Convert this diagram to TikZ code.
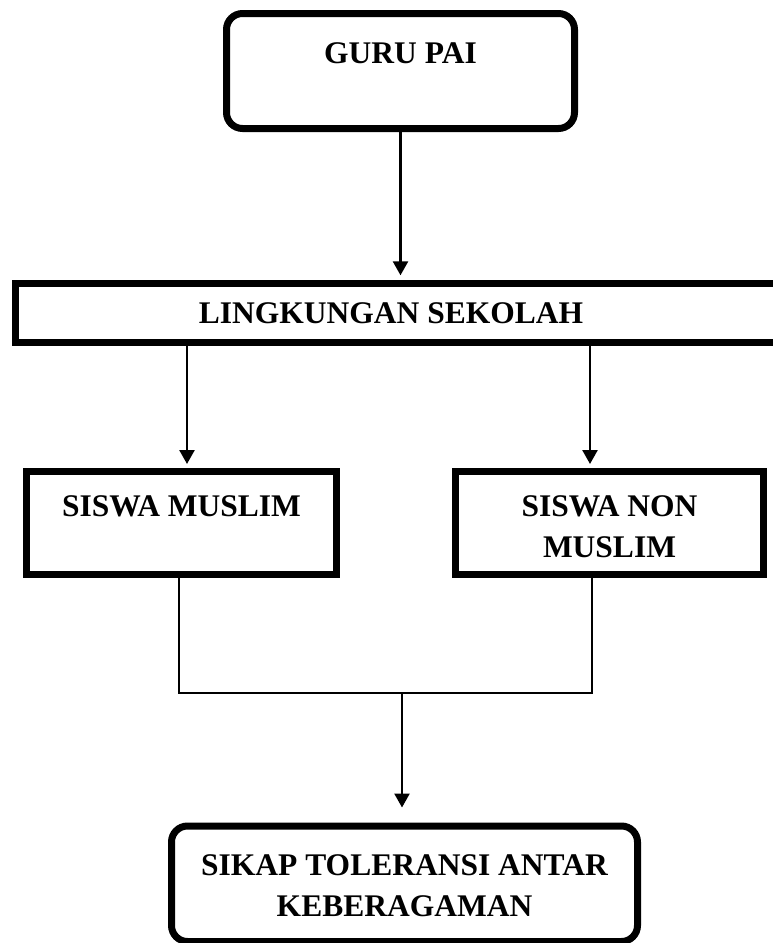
\documentclass[tikz,border=0pt]{standalone}
\usepackage{fontspec}
\setmainfont{Liberation Serif}
\usetikzlibrary{arrows.meta,positioning,calc}
\tikzset{%
	roundbox/.style = {draw, rectangle, rounded corners=16pt, line width=7pt, inner sep=0pt, align=center},
	box/.style      = {draw, rectangle, line width=7pt, inner sep=0pt, align=center},
	openbox/.style  = {rectangle, inner sep=0pt},
	frame/.style    = {line width=7pt},
	arrow/.style    = {line width=2.5pt, -{Triangle[length=14pt,width=15pt]}},
	line/.style     = {line width=1.8pt},
	waypoint/.style = {coordinate},
}

\begin{document}
\begin{tikzpicture}[x=1pt, y=-1pt, font=\fontsize{31.5}{41}\selectfont\bfseries]
	\useasboundingbox (0,0) rectangle (773,943);
	\node[roundbox, minimum width=348pt, text height=49.5pt, text depth=65.5pt] (guru) at (400.5,71) {GURU PAI};
	\node[openbox, minimum width=751pt, minimum height=59pt, text height=40pt, text depth=19pt] (lingk) at (391,313) {LINGKUNGAN SEKOLAH};
	\node[box, minimum width=310pt, text height=44.5pt, text depth=58.5pt] (muslim) at (181.5,523) {SISWA MUSLIM};
	\node[box, minimum width=308pt, text height=44.5pt, text depth=58.5pt] (nonmuslim) at (609.5,523) {\begin{tabular}[t]{@{}c@{}}SISWA NON\\MUSLIM\end{tabular}};
	\node[roundbox, minimum width=466pt, text height=49pt, text depth=66.5pt] (sikap) at (404.5,883.75) {\begin{tabular}[t]{@{}c@{}}SIKAP TOLERANSI ANTAR\\KEBERAGAMAN\end{tabular}};
	\node[waypoint] (mid) at (402,693) {};
	
	% frame of the wide box, open to the right
	\draw[frame] ([xshift=40pt]lingk.north east) -| (lingk.south west) -- ([xshift=40pt]lingk.south east);
	
	\draw[arrow, shorten >=8pt] (guru) -- (lingk.north -| guru);
	\draw[arrow, shorten >=4pt] ([xshift=5.5pt]lingk.south -| muslim) -- ([xshift=5.5pt]muslim.north);
	\draw[arrow, shorten >=4pt] ([xshift=-19.5pt]lingk.south -| nonmuslim) -- ([xshift=-19.5pt]nonmuslim.north);
	\draw[line] ([xshift=-2.5pt]muslim.south) |- (mid) -| ([xshift=-17.5pt]nonmuslim.south);
	\draw[arrow, shorten >=15pt] (mid) -- (sikap.north -| mid);
\end{tikzpicture}
\end{document}
